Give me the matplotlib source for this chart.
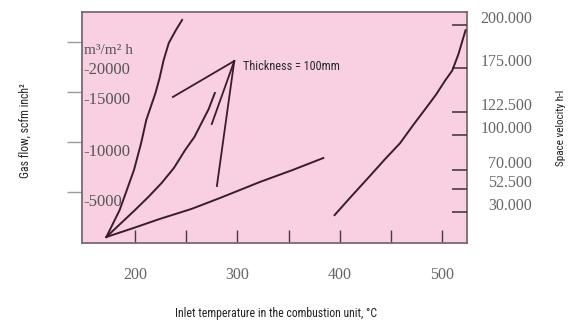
import numpy as np
import matplotlib
matplotlib.use('Agg')
import matplotlib.pyplot as plt
import matplotlib.transforms as mtransforms

# Curves (inlet temperature degC, gas flow scfm/inch2)
steep_t = [172, 185, 199, 206, 211, 216, 220, 224, 228, 233, 240, 246]
steep_q = [1500, 4200, 8200, 10900, 13200, 14700, 15900, 17400, 19200, 20900, 22200, 23200]

mid_t = [172, 186, 200, 213, 226, 238, 249, 258, 265, 272, 278]
mid_q = [1500, 2850, 4200, 5500, 6900, 8400, 10200, 11500, 12900, 14300, 15900]

low_t = [172, 200, 224, 255, 283, 322, 354, 384]
low_q = [1500, 2450, 3300, 4300, 5400, 7000, 8200, 9400]

# Pointer lines for the label
apex = (297, 19100)
pointer_ends = [(237, 15500), (275, 12800), (280, 6600)]

# Burner curve (temperature, space velocity 1/h)
burner_t = [395, 412, 430, 445, 459, 472, 483, 494, 503, 510, 516, 523]
burner_v = [27000, 46000, 65000, 80000, 93000, 110000, 125000, 143000, 160000, 172000, 183000, 197000]

# Axis ticks
x_ticks = [200, 250, 300, 350, 400, 450, 500]
x_labels = ['200', '', '300', '', '400', '', '500']
left_ticks = [6000, 11000, 16000, 21000]
left_labels = ['-5000', '-10000', '-15000', '-20000']
left_label_pos = [5000, 10000, 15200, 18200]
right_ticks = [30000, 52500, 70000, 100000, 122500, 175000, 200000]
right_labels = ['30.000', '52.500', '70.000', '100.000', '122.500', '175.000', '200.000']

# the velocity scale on the printed chart is not linear
vel_anchor = [0, 30000, 52500, 70000, 100000, 122500, 175000, 200000, 215000]
pos_anchor = [0, 31, 54, 73, 108, 131, 175, 218, 243.7]


def fwd(v):
    return np.interp(v, vel_anchor, pos_anchor)


def inv(p):
    return np.interp(p, pos_anchor, vel_anchor)


W, H = 581, 325
fig = plt.figure(figsize=(W / 100, H / 100), dpi=100)
ax = fig.add_axes([82 / W, (H - 243) / H, (467 - 82) / W, (243 - 12) / H])
ax.set_facecolor('#f8d0e1')
ax.set_xlim(148.2, 524.4)
ax.set_ylim(900, 24000)

line_c = '#3a1c2c'
serif = ['Liberation Serif', 'DejaVu Serif']
narrow = ['Roboto Condensed', 'DejaVu Sans']

ax.plot(steep_t, steep_q, color=line_c, lw=1.4)
ax.plot(mid_t, mid_q, color=line_c, lw=1.4)
ax.plot(low_t, low_q, color=line_c, lw=1.4)
for end in pointer_ends:
    ax.plot([apex[0], end[0]], [apex[1], end[1]], color=line_c, lw=1.3)
ax.text(305.5, 18500, 'Thickness = 100mm', family=narrow, fontstretch='condensed',
        fontsize=8.8, va='center', ha='left', color='#2a2a2a')

for sp in ax.spines.values():
    sp.set_color('#7a6870')
    sp.set_linewidth(1.3)

ax.set_xticks(x_ticks)
ax.set_xticklabels(x_labels, family=serif, fontsize=11.5, color='#666666')
ax.tick_params(axis='x', direction='in', length=9.5, width=1, color='#4a3a42', pad=17)

ax.set_yticks(left_ticks)
ax.set_yticklabels([])
ax.tick_params(axis='y', direction='out', length=11, width=1, color='#9a9a9a')
for lab, pos in zip(left_labels, left_label_pos):
    ax.text(150, pos, lab, family=serif, fontsize=12, color='#555555',
            va='center', ha='left')
ax.text(150, 20200, 'm³/m² h', family=serif, fontsize=11, color='#555555',
        va='center', ha='left')

ax2 = ax.twinx()
ax2.set_yscale('function', functions=(fwd, inv))
ax2.set_ylim(0, 207600)
ax2.plot(burner_t, burner_v, color=line_c, lw=1.4)
ax2.set_yticks(right_ticks)
ax2.set_yticklabels(right_labels, family=serif, fontsize=11.5, color='#666666', ha='right')
ax2.tick_params(axis='y', direction='in', length=11, width=1.2, color='#4a3a42', pad=47)
ax2.yaxis.set_minor_locator(matplotlib.ticker.NullLocator())
shift = mtransforms.ScaledTranslation(0, 8 / 100, fig.dpi_scale_trans)
for lab in ax2.get_yticklabels():
    lab.set_transform(lab.get_transform() + shift)
for sp in ax2.spines.values():
    sp.set_visible(False)
ax2.text(357, 27000, 'Burner', family=narrow, fontstretch='condensed', fontsize=9,
         color='#2a2a2a', va='center', ha='left', transform=ax.transData)

fig.text(276 / W, 1 - 313 / H, 'Inlet temperature in the combustion unit, °C',
         family=narrow, fontstretch='condensed', fontsize=8.5, ha='center', va='center',
         color='#222222')
fig.text(25 / W, 1 - 131 / H, 'Gas flow, scfm inch²', family=narrow,
         fontstretch='condensed', fontsize=8.5, rotation=90, ha='center', va='center',
         color='#222222')
fig.text(561 / W, 1 - 128 / H, 'Space velocity h-l', family=narrow,
         fontstretch='condensed', fontsize=8, rotation=90, ha='center', va='center',
         color='#222222')

fig.savefig('out.png', dpi=100, facecolor='white')
